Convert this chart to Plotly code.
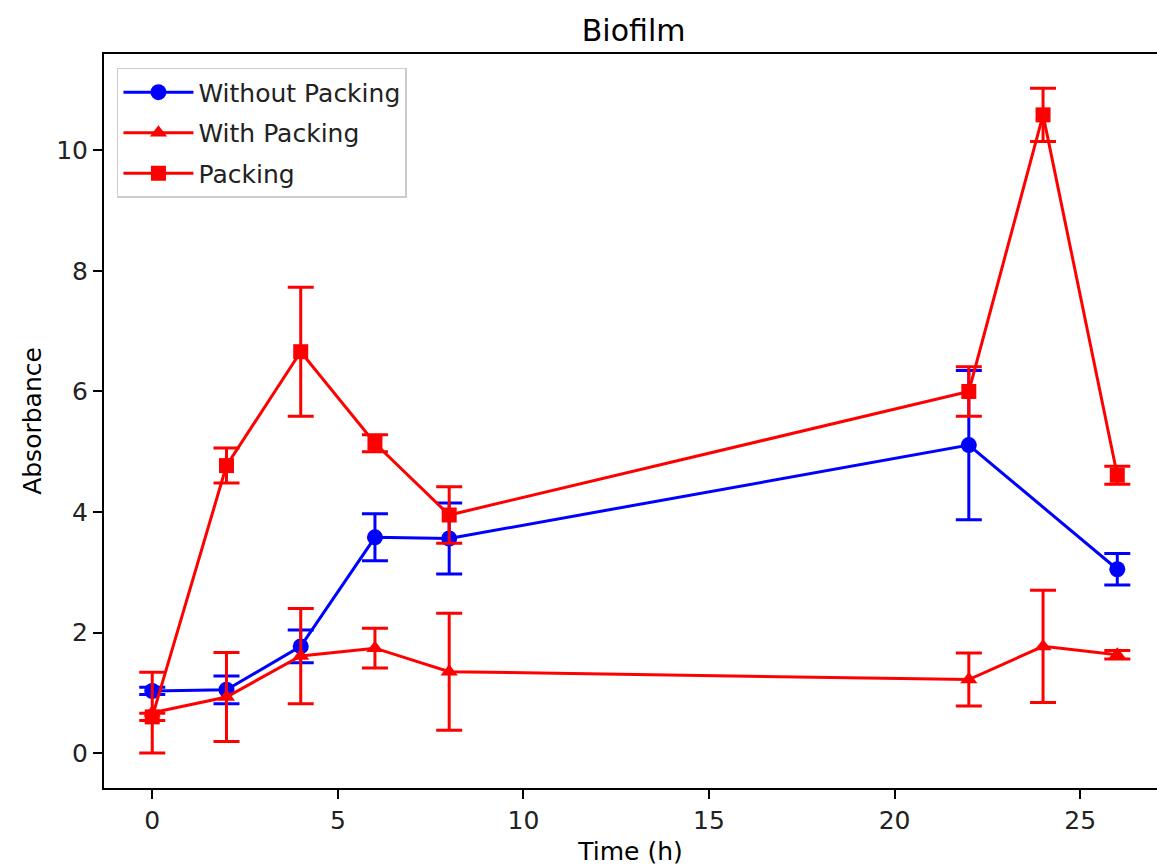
import plotly.graph_objects as go

time_h = [0, 2, 4, 6, 8, 22, 24, 26]

without_packing = [1.03, 1.05, 1.77, 3.58, 3.56, 5.11, None, 3.05]
without_packing_err = [0.06, 0.23, 0.27, 0.39, 0.59, 1.24, None, 0.26]

with_packing = [0.67, 0.93, 1.61, 1.74, 1.35, 1.22, 1.77, 1.63]
with_packing_err = [0.67, 0.74, 0.79, 0.33, 0.97, 0.44, 0.93, 0.07]

packing = [0.60, 4.77, 6.66, 5.14, 3.95, 6.00, 10.59, 4.61]
packing_err = [0.06, 0.29, 1.07, 0.14, 0.47, 0.41, 0.44, 0.15]

x_ticks = [0, 5, 10, 15, 20, 25]
y_ticks = [0, 2, 4, 6, 8, 10]

FONT = "DejaVu Sans"


def clean(xs, ys, es):
    ox, oy, oe = [], [], []
    for x, y, e in zip(xs, ys, es):
        if y is not None:
            ox.append(x); oy.append(y); oe.append(e)
    return ox, oy, oe


fig = go.Figure()

series = [
    ("Without Packing", without_packing, without_packing_err, "blue", "circle", 16),
    ("With Packing", with_packing, with_packing_err, "red", "triangle-up", 15),
    ("Packing", packing, packing_err, "red", "square", 15),
]

for name, ys, es, color, sym, size in series:
    xx, yy, ee = clean(time_h, ys, es)
    fig.add_trace(go.Scatter(
        x=xx, y=yy, name=name, mode="lines+markers", legendgroup=name,
        line=dict(color=color, width=3),
        marker=dict(color=color, symbol=sym, size=size),
        error_y=dict(type="data", array=ee, visible=True, color=color,
                     thickness=3, width=13),
    ))

fig.update_layout(
    width=1157, height=866,
    margin=dict(l=104, r=0, t=54, b=78),
    paper_bgcolor="white", plot_bgcolor="white",
    font=dict(family=FONT, size=25, color="black"),
    title=dict(text="Biofilm", x=0.503, xref="paper", xanchor="center",
               y=1 - 30 / 866, yanchor="middle",
               font=dict(family=FONT, size=30, color="black")),
    showlegend=True,
    legend=dict(x=0.0123, y=0.981, xanchor="left", yanchor="top",
                bordercolor="#cccccc", borderwidth=1.5, bgcolor="white",
                itemwidth=70, tracegroupgap=5,
                font=dict(family=FONT, size=25, color="#222222")),
)

fig.update_xaxes(
    range=[-1.3, 27.07], tickvals=x_ticks, ticktext=[str(v) for v in x_ticks],
    showgrid=False, zeroline=False, showline=True, linecolor="black",
    linewidth=2, mirror=True, ticks="outside", ticklen=9, tickwidth=2,
    tickcolor="black", tickfont=dict(family=FONT, size=25, color="#222222"),
    title=dict(text="Time (h)", font=dict(family=FONT, size=25, color="black"),
               standoff=10),
)
fig.update_yaxes(
    range=[-0.58, 11.6], tickvals=y_ticks, ticktext=[str(v) for v in y_ticks],
    showgrid=False, zeroline=False, showline=True, linecolor="black",
    linewidth=2, mirror=False, ticks="outside", ticklen=9, tickwidth=2,
    tickcolor="black", tickfont=dict(family=FONT, size=25, color="#222222"),
    title=dict(text="Absorbance", font=dict(family=FONT, size=25, color="black"),
               standoff=7),
)

fig.write_html("out.html")
